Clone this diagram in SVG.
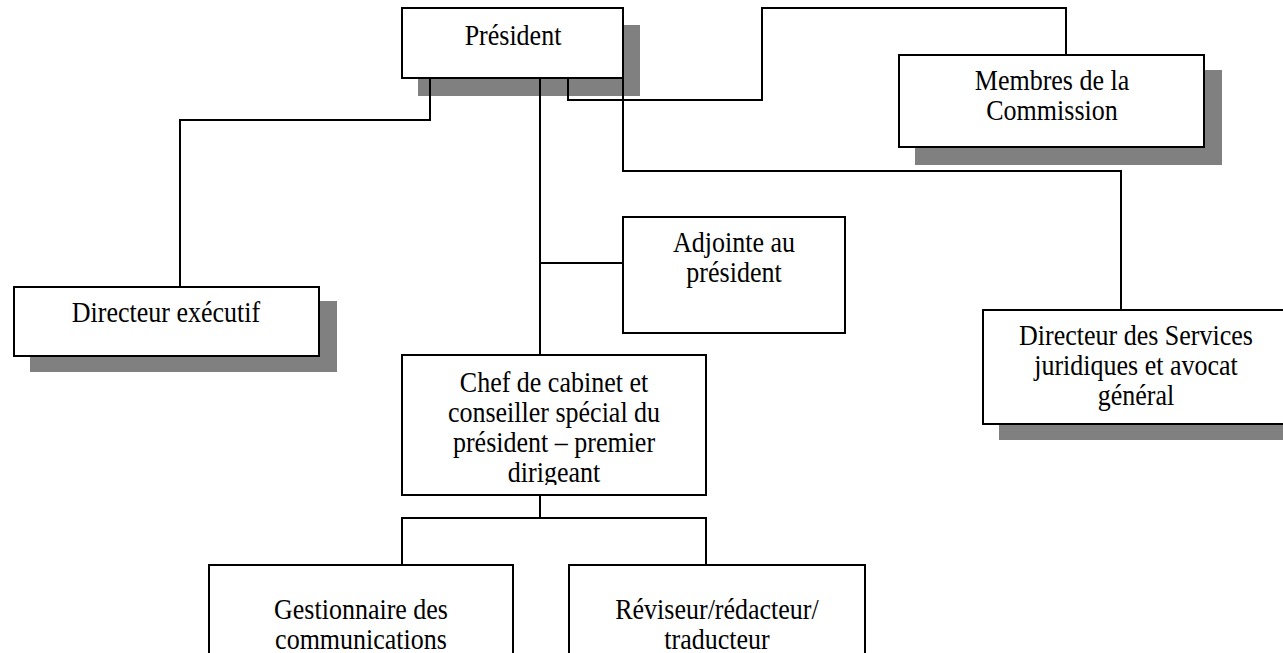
<svg xmlns="http://www.w3.org/2000/svg" width="1283" height="653" viewBox="0 0 1283 653">
<style>
.box{fill:#fff;stroke:#000;stroke-width:2}
.sh{fill:#808080}
.t{font-family:"Liberation Serif","Times New Roman",serif;font-size:26px;fill:#000;text-anchor:middle}
.c{fill:none;stroke:#000;stroke-width:2}
</style>
<defs>
<clipPath id="chefclip"><rect x="403" y="356" width="302" height="129"/></clipPath>
</defs>
<rect width="1283" height="653" fill="#fff"/>
<g id="president">
<rect class="sh" x="418" y="25" width="222" height="71"/>
<rect class="box" x="402" y="8" width="221" height="70"/>
<text class="t" transform="translate(513,45) scale(1,1.12)">Président</text>
</g>
<g id="membres">
<rect class="sh" x="915" y="70" width="307" height="95"/>
<rect class="box" x="899" y="55" width="305" height="92"/>
<text class="t" transform="translate(1052,90) scale(1,1.12)">Membres de la</text>
<text class="t" transform="translate(1052,120) scale(1,1.12)">Commission</text>
</g>
<g id="directeur-executif">
<rect class="sh" x="30" y="301" width="307" height="71"/>
<rect class="box" x="14" y="287" width="305" height="69"/>
<text class="t" transform="translate(166,322) scale(1,1.12)">Directeur exécutif</text>
</g>
<g id="adjointe">
<rect class="box" x="623" y="217" width="222" height="116"/>
<text class="t" transform="translate(734,252) scale(1,1.12)">Adjointe au</text>
<text class="t" transform="translate(734,282) scale(1,1.12)">président</text>
</g>
<g id="directeur-services">
<rect class="sh" x="999" y="326" width="300" height="114"/>
<rect class="box" x="983" y="310" width="306" height="114"/>
<text class="t" transform="translate(1136,345) scale(1,1.12)">Directeur des Services</text>
<text class="t" transform="translate(1136,375) scale(1,1.12)">juridiques et avocat</text>
<text class="t" transform="translate(1136,405) scale(1,1.12)">général</text>
</g>
<g id="chef">
<rect class="box" x="402" y="355" width="304" height="140"/>
<g clip-path="url(#chefclip)">
<text class="t" transform="translate(554,392) scale(1,1.12)">Chef de cabinet et</text>
<text class="t" transform="translate(554,422) scale(1,1.12)">conseiller spécial du</text>
<text class="t" transform="translate(554,452) scale(1,1.12)">président – premier</text>
<text class="t" transform="translate(554,482) scale(1,1.12)">dirigeant</text>
</g>
</g>
<g id="gestionnaire">
<rect class="box" x="209" y="565" width="304" height="120"/>
<text class="t" transform="translate(361,619) scale(1,1.12)">Gestionnaire des</text>
<text class="t" transform="translate(361,649) scale(1,1.12)">communications</text>
</g>
<g id="reviseur">
<rect class="box" x="569" y="565" width="296" height="120"/>
<text class="t" transform="translate(717,619) scale(1,1.12)">Réviseur/rédacteur/</text>
<text class="t" transform="translate(717,649) scale(1,1.12)">traducteur</text>
</g>
<g id="connectors">
<path class="c" d="M430,78 V120 H180 V287"/>
<path class="c" d="M568,78 V100 H762 V8 H1066 V55"/>
<path class="c" d="M623,78 V171 H1121 V310"/>
<path class="c" d="M540,78 V355"/>
<path class="c" d="M540,263 H623"/>
<path class="c" d="M540,495 V518"/>
<path class="c" d="M402,565 V518 H706 V565"/>
</g>
</svg>
